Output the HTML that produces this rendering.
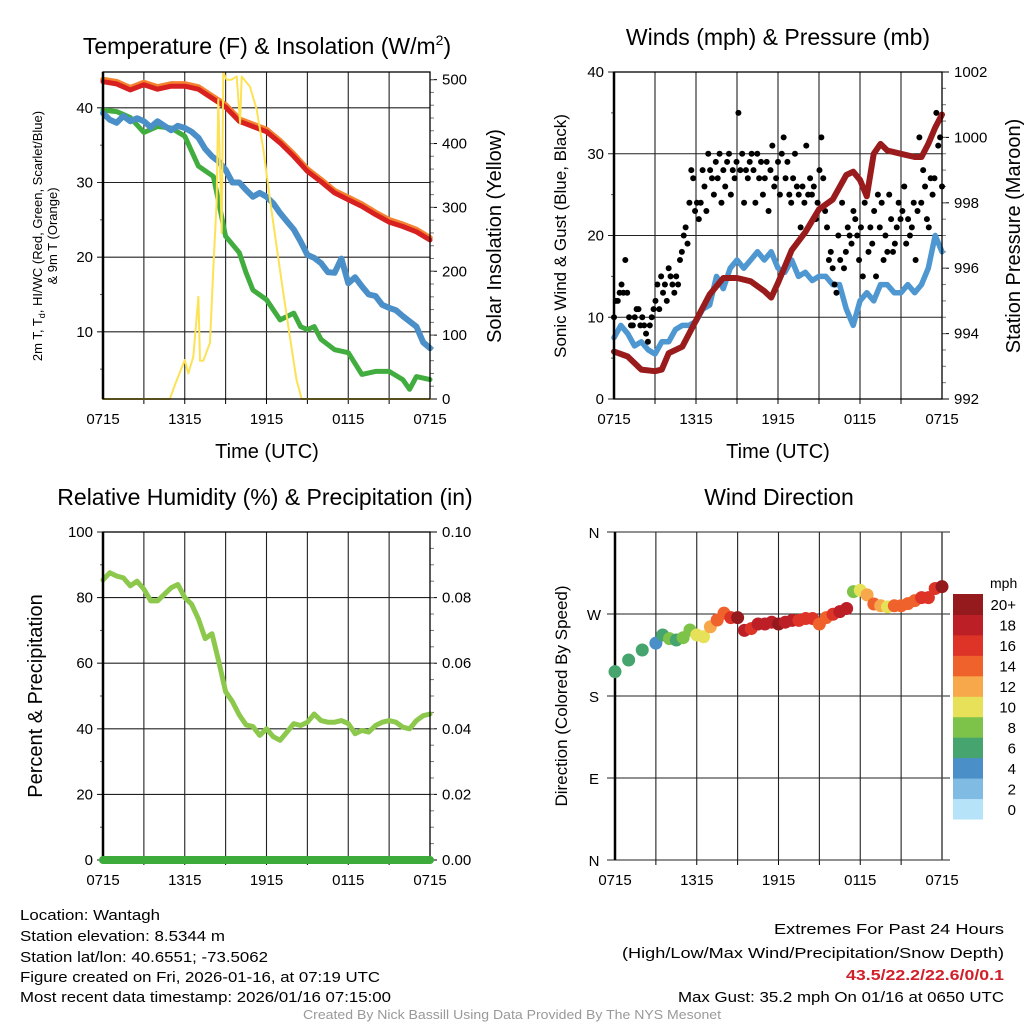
<!DOCTYPE html>
<html><head><meta charset="utf-8">
<style>
body{margin:0;background:#fff;}
svg{display:block;font-family:"Liberation Sans",Arial,sans-serif;}
</style></head>
<body>
<svg id="fig" width="1024" height="1024" viewBox="0 0 1024 1024" xmlns="http://www.w3.org/2000/svg">
<rect width="1024" height="1024" fill="#fff"/>
<g id="p1"></g>
<g id="p2"></g>
<g id="p3"></g>
<g id="p4"></g>

<text x="267" y="54" font-size="23" text-anchor="middle">Temperature (F) &amp; Insolation (W/m<tspan font-size="14" dy="-9">2</tspan><tspan dy="9">)</tspan></text>
<text x="778" y="45" font-size="23" text-anchor="middle">Winds (mph) &amp; Pressure (mb)</text>
<text x="265" y="505" font-size="23" text-anchor="middle">Relative Humidity (%) &amp; Precipitation (in)</text>
<text x="779" y="505" font-size="23" text-anchor="middle">Wind Direction</text>

<text x="267" y="458" font-size="20" text-anchor="middle">Time (UTC)</text>
<text x="778" y="458" font-size="20" text-anchor="middle">Time (UTC)</text>

<g transform="translate(42,236) rotate(-90)">
<text x="0" y="0" font-size="13" text-anchor="middle">2m T, T<tspan font-size="9" dy="3">d</tspan><tspan dy="-3">, HI/WC (Red, Green, Scarlet/Blue)</tspan></text>
<text x="0" y="15" font-size="13" text-anchor="middle">&amp; 9m T (Orange)</text>
</g>
<text transform="translate(501,236) rotate(-90)" font-size="20" text-anchor="middle">Solar Insolation (Yellow)</text>
<text transform="translate(566,236) rotate(-90)" font-size="17" text-anchor="middle">Sonic Wind &amp; Gust (Blue, Black)</text>
<text transform="translate(1020,236) rotate(-90)" font-size="20" text-anchor="middle">Station Pressure (Maroon)</text>
<text transform="translate(42,696) rotate(-90)" font-size="20" text-anchor="middle">Percent &amp; Precipitation</text>
<text transform="translate(567,696) rotate(-90)" font-size="17" text-anchor="middle">Direction (Colored By Speed)</text>

<g font-size="15">
<text x="20" y="920" textLength="140" lengthAdjust="spacingAndGlyphs">Location: Wantagh</text>
<text x="20" y="941" textLength="205" lengthAdjust="spacingAndGlyphs">Station elevation: 8.5344 m</text>
<text x="20" y="962" textLength="248" lengthAdjust="spacingAndGlyphs">Station lat/lon: 40.6551; -73.5062</text>
<text x="20" y="982" textLength="360" lengthAdjust="spacingAndGlyphs">Figure created on Fri, 2026-01-16, at 07:19 UTC</text>
<text x="20" y="1002" textLength="371" lengthAdjust="spacingAndGlyphs">Most recent data timestamp: 2026/01/16 07:15:00</text>
<text x="774" y="934" textLength="230" lengthAdjust="spacingAndGlyphs">Extremes For Past 24 Hours</text>
<text x="622" y="958" textLength="382" lengthAdjust="spacingAndGlyphs">(High/Low/Max Wind/Precipitation/Snow Depth)</text>
<text x="846" y="980" textLength="158" lengthAdjust="spacingAndGlyphs" fill="#d0212a" font-weight="bold">43.5/22.2/22.6/0/0.1</text>
<text x="678" y="1002" textLength="326" lengthAdjust="spacingAndGlyphs">Max Gust: 35.2 mph On 01/16 at 0650 UTC</text>
<text x="303" y="1019" font-size="13" fill="#999" textLength="418" lengthAdjust="spacingAndGlyphs">Created By Nick Bassill Using Data Provided By The NYS Mesonet</text>
</g>
</svg>
<script>
// ---------- data ----------
const timeLabels = ["0715","1315","1915","0115","0715"];
const tempRed = [43.5,43.2,42.4,43.1,42.5,42.9,42.9,42.5,41.3,40.1,38.2,37.5,36.8,35.3,33.5,31.5,30.1,28.6,27.7,26.8,25.7,24.7,24.1,23.4,22.3];
const temp9m = [43.8,43.5,42.7,43.4,42.8,43.2,43.2,42.8,41.6,40.4,38.5,37.8,37.1,35.6,33.8,31.8,30.4,28.9,28.0,27.1,26.0,25.0,24.4,23.7,22.6];
const windChill = [39.3,38.4,38.0,38.9,38.2,38.6,38.2,37.4,38.2,37.6,37.0,37.6,37.3,36.8,36.0,34.5,33.5,32.8,31.7,30.0,30.0,29.0,28.1,28.6,28.1,27.2,25.9,24.8,23.7,22.1,20.3,19.9,19.2,18.0,17.9,19.8,16.5,17.3,16.1,15.0,14.8,13.6,13.2,12.9,12.1,11.4,10.7,8.6,7.8];
const dewTimes = [0,1,2,3,4,5,6,7,8.1,8.5,9,10,10.5,11,12,13,14,14.5,15,15.5,16,17,18,19,20,21,22,22.5,23,24];
const dewPoint = [39.7,39.5,38.7,36.7,37.5,37.3,36.2,32.2,30.8,27.3,22.8,20.6,17.9,15.6,14.3,11.6,12.5,10.7,10.3,10.7,9.0,7.6,7.2,4.3,4.7,4.7,3.6,2.3,4.0,3.6];
const solarTimes = [0,4.9,5.28,6.0,6.26,6.63,7.0,7.12,7.36,7.85,8.1,8.34,8.46,8.71,8.83,9.08,9.44,9.81,10.06,10.18,10.79,11.28,11.77,12.26,12.75,13.23,13.72,14.2,14.58,24];
const solarVals = [0,0,22,61,40,66,160,60,60,88,207,307,469,260,511,500,500,505,432,505,489,453,390,312,238,166,97,30,0,0];
const windSpeed = [7.5,9,8,6.5,7,6,5.5,7,7,8.5,9,9,9.5,11,11.5,15,13.5,16,17,16,17,18,17,18,16,15.5,17,15,15.5,14.5,15,15,14,14,11,9,12,13,12,14,14,13,13,14,13,14,16,20,18];
const gusts = [10,12,12,13,14,13,17,13,10,9,9,10,11,11,9,10,9,8,7,9,10,11,12,14,11,15,13,14,12,16,15,14,13,15,14,17,18,20,21,19,24,28,27,23,24,22,24,28,26,23,30,28,27,25,29,27,30,24,28,26,29,30,25,28,27,29,35,28,30,24,28,27,29,30,28,24,30,27,29,25,27,29,23,28,31,26,27,29,25,30,32,27,29,25,24,27,30,26,25,21,26,24,31,25,27,25,26,22,24,28,32,27,23,21,17,18,16,14,13,20,17,24,16,18,21,20,19,23,22,20,17,21,15,24,25,18,21,19,23,15,25,21,24,17,20,18,25,22,18,19,21,24,22,23,26,19,22,20,21,24,17,23,32,24,28,26,22,21,27,25,27,35,31,32,26];
const pressTimes = [0,1,2,3,3.5,4,5,6,7,8,9,10,11,11.5,12,13,14,15,16,17,17.5,18,18.5,19,19.5,20,21,22,22.5,23,23.5,24];
const pressure = [993.45,993.3,992.9,992.85,992.9,993.4,993.6,994.4,995.2,995.7,995.7,995.6,995.3,995.1,995.55,996.55,997.1,997.8,998.1,998.85,998.95,998.7,998.2,999.5,999.8,999.6,999.5,999.4,999.4,999.8,1000.3,1000.7];
const humidity = [85.4,87.6,86.6,86,83.6,85,82.6,79,79,81,83,84,80,78,73.5,67.5,69,60.5,51.3,48.3,44.2,41.2,40.7,38,40,37.6,36.5,39,41.6,41,42,44.5,42.5,42,42,42.5,41.6,38.5,39.5,39,41,42,42.5,42,40.5,40,42.5,44,44.5];
const precip = [0,0,0,0,0,0,0,0,0,0,0,0,0,0,0,0,0,0,0,0,0,0,0,0,0];
const dirTimes = [0,1,2,3,3.5,4,4.5,5,5.5,6,6.5,7,7.5,8,8.5,9,9.5,10,10.5,11,11.5,12,12.5,13,13.5,14,14.5,15,15.5,16,16.5,17,17.5,18,18.5,19,19.5,20,20.5,21,21.5,22,22.5,23,23.5,24];
const dirVals = [206.7,219.5,230.5,238,247,243,241.5,244,252.5,247,245,256,263.4,270.9,266,266,252,254,259,259,261,259,261,263,263,265,265,259,266,269.7,272.6,276,294.5,296,291,281,279,277.8,279,279,281.4,284.7,288,288,298,300];
const dirSpeed = [7,7,7,5,7,8,7,8,9,10,10,12,14,15,17,20,18,17,19,18,19,20,18,18,17,17,16,15,14,16,18,18,9,10,12,14,12,10,14,15,14,15,16,16,17,20];
const cbLabels = ["0","2","4","6","8","10","12","14","16","18","20+"];
const cbColors = ["#b6e3f7","#80bbe4","#4a8fc8","#46a56e","#7dc34a","#e7e15a","#f7a84a","#f0622b","#de3428","#bd1f27","#951a1d"];

// ---------- helpers ----------
const NS="http://www.w3.org/2000/svg";
function mk(parent,tag,attrs){const e=document.createElementNS(NS,tag);for(const k in attrs)e.setAttribute(k,attrs[k]);parent.appendChild(e);return e;}
function lin(d0,d1,r0,r1){return v=>r0+(v-d0)*(r1-r0)/(d1-d0);}
function evenTimes(n){const a=[];for(let i=0;i<n;i++)a.push(i*24/(n-1));return a;}
function pathOf(ts,vs,x,y){return ts.map((t,i)=>(i?"L":"M")+x(t).toFixed(1)+","+y(vs[i]).toFixed(1)).join("");}

function frame(g,L,R,T,B){
  const x=lin(0,24,L,R);
  for(let h=3;h<24;h+=3){
    const v=mk(g,"line",{x1:x(h),x2:x(h),y1:T,y2:B,stroke:"#222","stroke-width":1.1});
    
    
    const tk=mk(g,"line",{x1:x(h),x2:x(h),y1:B,y2:B+5,stroke:"#000","stroke-width":1});
    
    
  }
  timeLabels.forEach((lab,i)=>{
    const t=mk(g,"text",{x:x(i*6),y:B+25,"font-size":15,"text-anchor":"middle"});
    t.textContent=lab;
    
    
  });
  return x;
}
function leftAxis(g,L,R,T,B,y,ticks,labels,minors,gridExt){
  ticks.forEach((v,i)=>{
    const gl=mk(g,"line",{x1:L-6,x2:gridExt||R,y1:y(v),y2:y(v),stroke:"#222","stroke-width":1.1});
    
    
    const t=mk(g,"text",{x:L-10,y:y(v)+5,"font-size":15,"text-anchor":"end"});
    t.textContent=labels[i];
    
    
  });
  minors.forEach(v=>{const m=mk(g,"line",{x1:L-3,x2:L,y1:y(v),y2:y(v),stroke:"#555","stroke-width":1});
    
    });
}
function rightAxis(g,R,y,ticks,labels,minors){
  ticks.forEach((v,i)=>{
    const tk=mk(g,"line",{x1:R,x2:R+7,y1:y(v),y2:y(v),stroke:"#000","stroke-width":1});
    
    
    const t=mk(g,"text",{x:R+12,y:y(v)+5,"font-size":15});
    t.textContent=labels[i];
    
    
  });
  minors.forEach(v=>{const m=mk(g,"line",{x1:R,x2:R+4,y1:y(v),y2:y(v),stroke:"#777","stroke-width":1});
    
    });
}
function border(g,L,R,T,B){
  const b=mk(g,"rect",{x:L,y:T,width:R-L,height:B-T,fill:"none",stroke:"#000","stroke-width":1.3});
  
  
  const l=mk(g,"line",{x1:L,x2:L,y1:T,y2:B,stroke:"#000","stroke-width":2.5});
  
  
}
function line(g,d,color,w,name){
  const p=mk(g,"path",{d:d,fill:"none",stroke:color,"stroke-width":w,"stroke-linejoin":"round","stroke-linecap":"round"});
  
  
  return p;
}
function range(a,b,s){const r=[];for(let v=a;v<=b+1e-9;v+=s)r.push(+v.toFixed(4));return r;}

// ---------- panel 1 ----------
(function(){
  const g=document.getElementById("p1");const L=103,R=430,T=72,B=399;
  const x=frame(g,L,R,T,B);
  const y=lin(1,44.8,B,T);const yr=lin(0,512,B,T);
  leftAxis(g,L,R,T,B,y,[10,20,30,40],["10","20","30","40"],[5,15,25,35]);
  rightAxis(g,R,yr,[0,100,200,300,400,500],["0","100","200","300","400","500"],range(20,500,20));
  const hourly=evenTimes(tempRed.length);
  line(g,pathOf(hourly,temp9m,x,y),"#f4822f",5.5,"9m-temperature-line");
  line(g,pathOf(hourly,tempRed,x,y),"#d7201f",5,"2m-temperature-line");
  line(g,pathOf(dewTimes,dewPoint,x,y),"#41ad3f",5,"dewpoint-line");
  line(g,pathOf(evenTimes(windChill.length),windChill,x,y),"#4b8fc8",6,"wind-chill-line");
  line(g,pathOf(solarTimes,solarVals,x,yr),"#fde254",2,"solar-insolation-line");
  border(g,L,R,T,B);
})();

// ---------- panel 2 ----------
(function(){
  const g=document.getElementById("p2");const L=614,R=942,T=72,B=399;
  const x=frame(g,L,R,T,B);
  const y=lin(0,40,B,T);const yr=lin(992,1002,B,T);
  leftAxis(g,L,R,T,B,y,[0,10,20,30,40],["0","10","20","30","40"],[5,15,25,35]);
  rightAxis(g,R,yr,[992,994,996,998,1000,1002],["992","994","996","998","1000","1002"],range(992.5,1001.5,0.5));
  line(g,pathOf(evenTimes(windSpeed.length),windSpeed,x,y),"#4e97d1",5.5,"sonic-wind-line");
  const gt=evenTimes(gusts.length);
  gusts.forEach((v,i)=>{
    const c=mk(g,"circle",{cx:x(gt[i]),cy:y(v),r:3,fill:"#000"});
    
    
  });
  line(g,pathOf(pressTimes,pressure,x,yr),"#9a1b1c",6,"pressure-line");
  border(g,L,R,T,B);
})();

// ---------- panel 3 ----------
(function(){
  const g=document.getElementById("p3");const L=103,R=430,T=532,B=860;
  const x=frame(g,L,R,T,B);
  const y=lin(0,100,B,T);const yr=lin(0,0.1,B,T);
  leftAxis(g,L,R,T,B,y,[0,20,40,60,80,100],["0","20","40","60","80","100"],[10,30,50,70,90]);
  rightAxis(g,R,yr,[0,0.02,0.04,0.06,0.08,0.1],["0.00","0.02","0.04","0.06","0.08","0.10"],range(0.005,0.095,0.005));
  line(g,pathOf(evenTimes(humidity.length),humidity,x,y),"#8cc84b",5,"relative-humidity-line");
  border(g,L,R,T,B);
  line(g,pathOf(evenTimes(precip.length),precip,x,yr),"#3cab3c",8,"precipitation-line");
})();

// ---------- panel 4 ----------
(function(){
  const g=document.getElementById("p4");const L=615,R=942,T=532,B=860;
  const x=frame(g,L,R,T,B);
  const y=lin(0,360,B,T);
  [0,90,180,270,360].forEach((v,i)=>{
    const gl=mk(g,"line",{x1:L-8,x2:950,y1:y(v),y2:y(v),stroke:"#222","stroke-width":1.1});
    
    
    const t=mk(g,"text",{x:L-21,y:y(v)+6,"font-size":15,"text-anchor":"middle"});
    t.textContent=["N","E","S","W","N"][i];
    
    
  });
  const l=mk(g,"line",{x1:L,x2:L,y1:T,y2:B,stroke:"#000","stroke-width":2.5});
  
  
  const r=mk(g,"line",{x1:R,x2:R,y1:T,y2:B,stroke:"#444","stroke-width":1.5});
  
  
  dirVals.forEach((d,i)=>{
    const idx=Math.min(10,Math.floor(dirSpeed[i]/2));
    const c=mk(g,"circle",{cx:x(dirTimes[i]),cy:y(d),r:6.5,fill:cbColors[idx]});
    
    
  });
  const cbx=953,cbTop=594,cbH=225/11;
  cbColors.forEach((col,i)=>{
    const k=10-i;
    const rc=mk(g,"rect",{x:cbx,y:cbTop+k*cbH,width:30,height:cbH+0.5,fill:col});
    
    
    const t=mk(g,"text",{x:1016,y:cbTop+k*cbH+cbH/2+6,"font-size":15,"text-anchor":"end"});
    t.textContent=cbLabels[i];
    
    
  });
  const u=mk(g,"text",{x:990,y:588,"font-size":14});
  u.textContent="mph";
  
  
})();
</script>
</body></html>
